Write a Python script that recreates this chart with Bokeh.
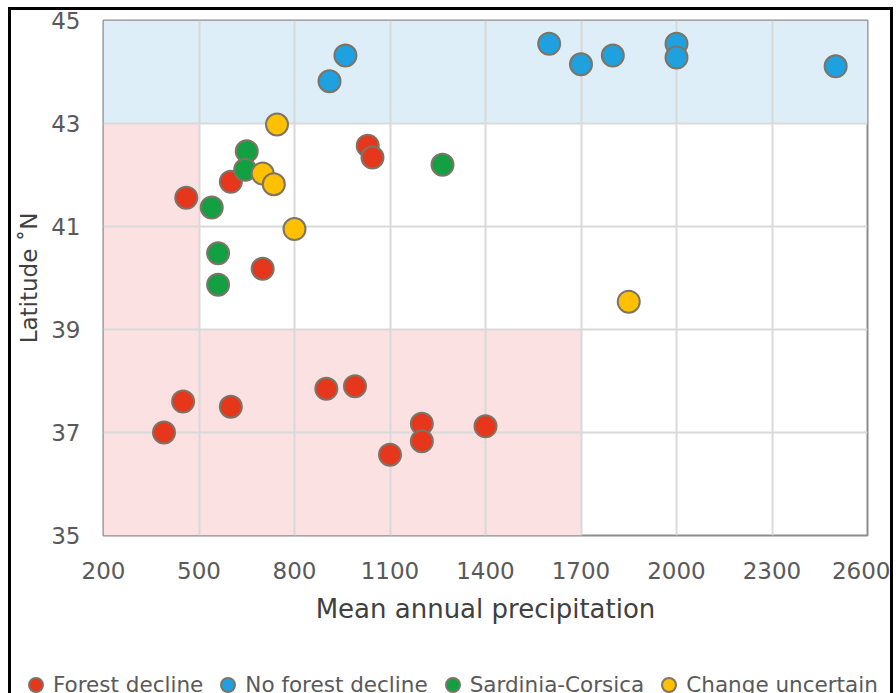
from bokeh.plotting import figure
from bokeh.models import FixedTicker, Legend, LegendItem
from bokeh.layouts import column
from bokeh.embed import file_html
from bokeh.resources import INLINE

FONT = "DejaVu Sans"

# ---- data ----
x_ticks = [200, 500, 800, 1100, 1400, 1700, 2000, 2300, 2600]
y_ticks = [35, 37, 39, 41, 43, 45]

forest_decline_x = [390, 450, 600, 900, 990, 1100, 1200, 1200, 1400, 460, 600, 700, 1030, 1045]
forest_decline_y = [37.0, 37.6, 37.5, 37.85, 37.9, 36.57, 37.17, 36.83, 37.12, 41.56, 41.87, 40.18, 42.57, 42.34]

no_decline_x = [960, 910, 1600, 1700, 1800, 2000, 2000, 2500]
no_decline_y = [44.32, 43.82, 44.55, 44.15, 44.32, 44.55, 44.28, 44.11]

sardinia_x = [650, 645, 540, 560, 560, 1265]
sardinia_y = [42.46, 42.1, 41.37, 40.48, 39.87, 42.2]

uncertain_x = [745, 700, 735, 800, 1850]
uncertain_y = [42.98, 42.03, 41.82, 40.95, 39.54]

series_names = ["Forest decline", "No forest decline", "Sardinia-Corsica", "Change uncertain"]

# shaded zones (precipitation / latitude thresholds)
blue_zone_left = [200]
blue_zone_right = [2600]
blue_zone_bottom = [43]
blue_zone_top = [45]

pink_zone_left = [200, 500]
pink_zone_right = [500, 1700]
pink_zone_bottom = [35, 35]
pink_zone_top = [43, 39]

colors = ["#e6361b", "#1fa1df", "#13a043", "#ffc000"]
outline = "#7d7466"
series = [(forest_decline_x, forest_decline_y), (no_decline_x, no_decline_y),
          (sardinia_x, sardinia_y), (uncertain_x, uncertain_y)]

p = figure(width=879, height=630, x_range=(200, 2600), y_range=(35, 45),
           output_backend="svg", toolbar_location=None,
           min_border_left=92, min_border_right=23,
           min_border_top=10, min_border_bottom=105)
p.frame_align = False

p.background_fill_color = "white"
p.border_fill_color = "white"
p.outline_line_color = "#8c8c8c"
p.outline_line_width = 2

p.quad(left=blue_zone_left, right=blue_zone_right, bottom=blue_zone_bottom, top=blue_zone_top,
       fill_color="#ddeef9", line_color=None, level="image")
p.quad(left=pink_zone_left, right=pink_zone_right, bottom=pink_zone_bottom, top=pink_zone_top,
       fill_color="#fbe1e2", line_color=None, level="image")

p.xaxis.ticker = FixedTicker(ticks=x_ticks)
p.yaxis.ticker = FixedTicker(ticks=y_ticks)
p.xgrid.ticker = FixedTicker(ticks=x_ticks)
p.ygrid.ticker = FixedTicker(ticks=y_ticks)
for g in (p.xgrid, p.ygrid):
    g.grid_line_color = "#d9d9d9"
    g.grid_line_width = 2

for ax in (p.xaxis, p.yaxis):
    ax.axis_line_color = None
    ax.major_tick_line_color = None
    ax.minor_tick_line_color = None
    ax.major_tick_out = 0
    ax.major_tick_in = 0
    ax.major_label_text_font = FONT
    ax.major_label_text_font_size = "23px"
    ax.major_label_text_color = "#595959"
    ax.axis_label_text_font = FONT
    ax.axis_label_text_font_style = "normal"
    ax.axis_label_text_color = "#404040"

p.xaxis.axis_label = "Mean annual precipitation"
p.xaxis.axis_label_text_font_size = "26px"
p.xaxis.major_label_standoff = 26
p.xaxis.axis_label_standoff = 12

p.yaxis.axis_label = "Latitude ˚N"
p.yaxis.axis_label_text_font_size = "23px"
p.yaxis.major_label_standoff = 23
p.yaxis.axis_label_standoff = 6

size = 22
for (sx, sy), c in zip(series, colors):
    p.scatter(sx, sy, size=size, fill_color=c, line_color=outline, line_width=2)

# legend row (separate strip below the chart)
lf = figure(width=879, height=53, x_range=(0, 1), y_range=(0, 1),
            x_axis_type=None, y_axis_type=None,
            output_backend="svg", toolbar_location=None, min_border=0)
lf.frame_align = False
lf.outline_line_color = None
lf.grid.visible = False
items = []
for (sx, sy), c, name in zip(series, colors, series_names):
    r = lf.scatter(sx, sy, size=size, fill_color=c, line_color=outline, line_width=2)
    items.append(LegendItem(label=name, renderers=[r]))

legend = Legend(items=items, orientation="horizontal", location=(7, -9),
                glyph_width=35, glyph_height=35, label_standoff=-3, spacing=7,
                padding=0, margin=0, border_line_color=None, background_fill_alpha=0,
                label_text_font=FONT, label_text_font_size="21.5px", label_text_color="#595959")
lf.add_layout(legend, "center")

layout = column(p, lf, spacing=0)
layout.styles = {"margin-left": "8px", "margin-top": "7px",
                 "border-left": "3px solid black", "border-top": "3px solid black",
                 "border-right": "3px solid black"}

open("out.html", "w").write(file_html(layout, INLINE))
